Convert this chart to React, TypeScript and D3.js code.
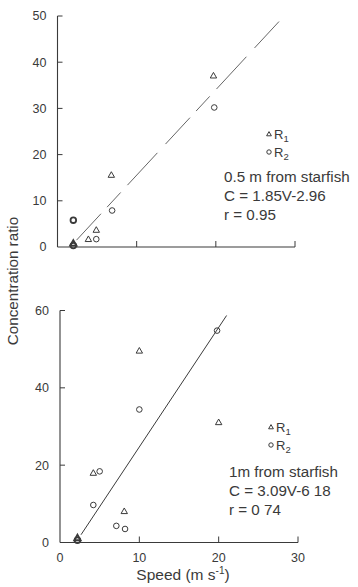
import React from "react";
import * as d3 from "d3";

const topR1: [number, number][] = [[2, 0.8], [3.9, 1.7], [4.9, 3.7], [6.8, 15.6], [19.7, 37.1]];
const topR2: [number, number][] = [[2, 5.8], [2, 0.3], [4.9, 1.7], [6.9, 7.9], [19.8, 30.2]];
const botR1: [number, number][] = [[2.2, 1.2], [4.2, 18], [8.1, 8.1], [10, 49.6], [20, 31.1]];
const botR2: [number, number][] = [[2.2, 0.6], [4.2, 9.7], [5, 18.4], [7.1, 4.3], [8.2, 3.5], [10, 34.4], [19.8, 54.8]];
const topYTicks = [0, 10, 20, 30, 40, 50];
const botYTicks = [0, 20, 40, 60];
const xTicks = [0, 10, 20, 30];
const topFit = { slope: 1.85, icpt: -2.96, from: 2.4, to: 28 };
const botFit = { slope: 3.09, icpt: -6.18, from: 2.65, to: 21 };
const topText = ["0.5 m from starfish", "C = 1.85V-2.96", "r = 0.95"];
const botText = ["1m from starfish", "C = 3.09V-6 18", "r = 0 74"];

const INK = "#3a3a3a";
const FONT = "'Liberation Sans', Arial, sans-serif";

function Tri({ x, y, bold, s = 3.2 }: { x: number; y: number; bold?: boolean; s?: number }) {
  return (
    <path
      d={`M${x},${y - s} L${x + s},${y + s * 0.75} L${x - s},${y + s * 0.75} Z`}
      fill="none"
      stroke={INK}
      strokeWidth={bold ? 1.8 : 1}
    />
  );
}
function Circ({ x, y, bold, r = 2.8 }: { x: number; y: number; bold?: boolean; r?: number }) {
  return <circle cx={x} cy={y} r={r} fill="none" stroke={INK} strokeWidth={bold ? 1.8 : 1} />;
}

function Panel({
  x0, x1, y0, y1, ymax, yTicks, r1, r2, fit, lines, legendX, legendY, textX, textY, showXLabels, dashed,
}: any) {
  const x = d3.scaleLinear().domain([0, 30]).range([x0, x1]);
  const y = d3.scaleLinear().domain([0, ymax]).range([y0, y1]);
  const line = d3.line<number>().x((v) => x(v)).y((v) => y(fit.slope * v + fit.icpt));
  return (
    <g>
      <line x1={x0} x2={x0} y1={y0} y2={y1} stroke={INK} strokeWidth={1.1} />
      <line x1={x0} x2={x1} y1={y0} y2={y0} stroke={INK} strokeWidth={1.1} />
      {yTicks.map((t: number) => (
        <g key={"y" + t}>
          {t > 0 && <line x1={x0} x2={x0 + 5} y1={y(t)} y2={y(t)} stroke={INK} strokeWidth={1} />}
          <text x={x0 - 11} y={y(t)} dy="0.35em" textAnchor="end" fontSize={12.5} fill={INK} fontFamily={FONT}>
            {t}
          </text>
        </g>
      ))}
      {xTicks.map((t) => (
        <g key={"x" + t}>
          {t > 0 && <line x1={x(t)} x2={x(t)} y1={y0} y2={y0 - 6} stroke={INK} strokeWidth={1} />}
          {showXLabels && (
            <text x={x(t)} y={y0 + 15} dy="0.35em" textAnchor="middle" fontSize={12.5} fill={INK} fontFamily={FONT}>
              {t}
            </text>
          )}
        </g>
      ))}
      <path
        d={line([fit.from, fit.to]) || ""}
        stroke={dashed ? "#666" : INK}
        strokeWidth={1}
        fill="none"
        strokeDasharray={dashed ? "36 9 20 10 44 12" : undefined}
      />
      {r1.map((p: [number, number], i: number) => (
        <Tri key={"a" + i} x={x(p[0])} y={y(p[1])} bold={p[0] < 3} />
      ))}
      {r2.map((p: [number, number], i: number) => (
        <Circ key={"b" + i} x={x(p[0])} y={y(p[1])} bold={p[0] < 3} />
      ))}
      <Tri x={legendX} y={legendY} s={2.4} />
      <text x={legendX + 5} y={legendY} dy="0.35em" fontSize={13} fill={INK} fontFamily={FONT}>
        R<tspan fontSize={9.5} dy={3}>1</tspan>
      </text>
      <Circ x={legendX} y={legendY + 18} r={2.2} />
      <text x={legendX + 5} y={legendY + 18} dy="0.35em" fontSize={13} fill={INK} fontFamily={FONT}>
        R<tspan fontSize={9.5} dy={3}>2</tspan>
      </text>
      {lines.map((s: string, i: number) => (
        <text key={s} x={textX} y={textY + i * 19} dy="0.35em" fontSize={15.2} fill={INK} fontFamily={FONT}>
          {s}
        </text>
      ))}
    </g>
  );
}

export default function App() {
  return (
    <svg
      width={358}
      height={587}
      style={{ position: "absolute", left: 0, top: 0, background: "#fff" }}
    >
      <Panel
        x0={57.5} x1={295} y0={247} y1={16} ymax={50} yTicks={topYTicks}
        r1={topR1} r2={topR2} fit={topFit} lines={topText}
        legendX={269} legendY={134} textX={224} textY={177} showXLabels={false} dashed
      />
      <Panel
        x0={60} x1={298} y0={542.5} y1={310.5} ymax={60} yTicks={botYTicks}
        r1={botR1} r2={botR2} fit={botFit} lines={botText}
        legendX={271} legendY={427} textX={229} textY={472} showXLabels dashed={false}
      />
      <text
        transform="translate(13,281) rotate(-90)"
        textAnchor="middle"
        dy="0.35em"
        fontSize={15.2}
        fill={INK}
        fontFamily={FONT}
      >
        Concentration ratio
      </text>
      <text x={183} y={575} dy="0.35em" textAnchor="middle" fontSize={15.5} fill={INK} fontFamily={FONT}>
        Speed (m s<tspan fontSize={10} dy={-6}>-1</tspan>
        <tspan dy={6}>)</tspan>
      </text>
    </svg>
  );
}
